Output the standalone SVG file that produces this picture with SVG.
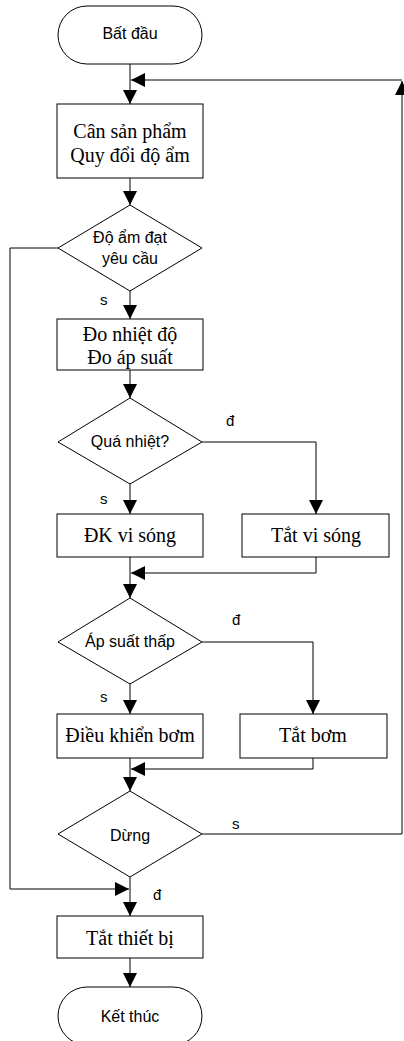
<svg xmlns="http://www.w3.org/2000/svg" width="404" height="1041" viewBox="0 0 404 1041">
<style>
.shape{fill:#fff;stroke:#000;stroke-width:1}
.conn{fill:none;stroke:#000;stroke-width:1}
.t{font-family:"Liberation Serif","Times New Roman",serif;font-size:20px;fill:#000;text-anchor:middle}
.s{font-family:"Liberation Sans",Arial,sans-serif;font-size:16px;fill:#000;text-anchor:middle}
.lbl{font-family:"Liberation Sans",Arial,sans-serif;font-size:15px;fill:#000}
</style>
<defs>
<marker id="arr" markerUnits="userSpaceOnUse" markerWidth="14" markerHeight="14" refX="14" refY="7" orient="auto">
<path d="M0,0 L14,7 L0,14 z" fill="#000"/>
</marker>
</defs>
<rect width="404" height="1041" fill="#fff"/>
<g id="connectors">
<path class="conn" d="M130,64 V104" marker-end="url(#arr)"/>
<path class="conn" d="M202,834 H402 V81" marker-end="url(#arr)"/>
<path class="conn" d="M402,80 H131" marker-end="url(#arr)"/>
<path class="conn" d="M130,178 V205" marker-end="url(#arr)"/>
<path class="conn" d="M58,248 H10 V889 H129" marker-end="url(#arr)"/>
<path class="conn" d="M130,291 V319" marker-end="url(#arr)"/>
<path class="conn" d="M130,370 V398" marker-end="url(#arr)"/>
<path class="conn" d="M202,442 H316 V514" marker-end="url(#arr)"/>
<path class="conn" d="M130,484 V514" marker-end="url(#arr)"/>
<path class="conn" d="M316,557 V573 H131" marker-end="url(#arr)"/>
<path class="conn" d="M130,557 V598" marker-end="url(#arr)"/>
<path class="conn" d="M202,642 H313 V714" marker-end="url(#arr)"/>
<path class="conn" d="M130,684 V714" marker-end="url(#arr)"/>
<path class="conn" d="M313,758 V769 H131" marker-end="url(#arr)"/>
<path class="conn" d="M130,758 V791" marker-end="url(#arr)"/>
<path class="conn" d="M130,877 V916" marker-end="url(#arr)"/>
<path class="conn" d="M130,958 V987" marker-end="url(#arr)"/>
<text class="lbl" x="100" y="305">s</text>
<text class="lbl" x="226" y="426">đ</text>
<text class="lbl" x="100" y="504">s</text>
<text class="lbl" x="232" y="625">đ</text>
<text class="lbl" x="100" y="702">s</text>
<text class="lbl" x="232" y="829">s</text>
<text class="lbl" x="153" y="900">đ</text>
</g>
<g id="start">
<rect class="shape" x="58" y="6" width="144" height="58" rx="29" ry="29"/>
<text class="s" x="130" y="39">Bất đầu</text>
</g>
<g id="weigh">
<rect class="shape" x="57" y="104" width="146" height="74"/>
<text class="t" x="130" y="138">Cân sản phẩm</text>
<text class="t" x="130" y="162">Quy đổi độ ẩm</text>
</g>
<g id="humidity">
<polygon class="shape" points="130,205 202,248 130,291 58,248"/>
<text class="s" x="130" y="243">Độ ẩm đạt</text>
<text class="s" x="130" y="264">yêu cầu</text>
</g>
<g id="measure">
<rect class="shape" x="57" y="319" width="146" height="51"/>
<text class="t" x="130" y="341">Đo nhiệt độ</text>
<text class="t" x="130" y="364">Đo áp suất</text>
</g>
<g id="overheat">
<polygon class="shape" points="130,398 202,442 130,484 58,442"/>
<text class="s" x="130" y="447">Quá nhiệt?</text>
</g>
<g id="mw-ctrl">
<rect class="shape" x="57" y="514" width="146" height="43"/>
<text class="t" x="130" y="542">ĐK vi sóng</text>
</g>
<g id="mw-off">
<rect class="shape" x="242" y="514" width="147" height="43"/>
<text class="t" x="316" y="542">Tắt vi sóng</text>
</g>
<g id="lowpressure">
<polygon class="shape" points="130,598 202,642 130,684 58,642"/>
<text class="s" x="130" y="647">Áp suất thấp</text>
</g>
<g id="pump-ctrl">
<rect class="shape" x="57" y="714" width="146" height="44"/>
<text class="t" x="130" y="742">Điều khiển bơm</text>
</g>
<g id="pump-off">
<rect class="shape" x="240" y="714" width="147" height="44"/>
<text class="t" x="313" y="742">Tắt bơm</text>
</g>
<g id="stop">
<polygon class="shape" points="130,791 202,834 130,877 58,834"/>
<text class="s" x="130" y="841">Dừng</text>
</g>
<g id="off-all">
<rect class="shape" x="57" y="916" width="146" height="42"/>
<text class="t" x="130" y="945">Tắt thiết bị</text>
</g>
<g id="end">
<rect class="shape" x="58" y="987" width="144" height="58" rx="29" ry="29"/>
<text class="s" x="130" y="1022">Kết thúc</text>
</g>
</svg>
